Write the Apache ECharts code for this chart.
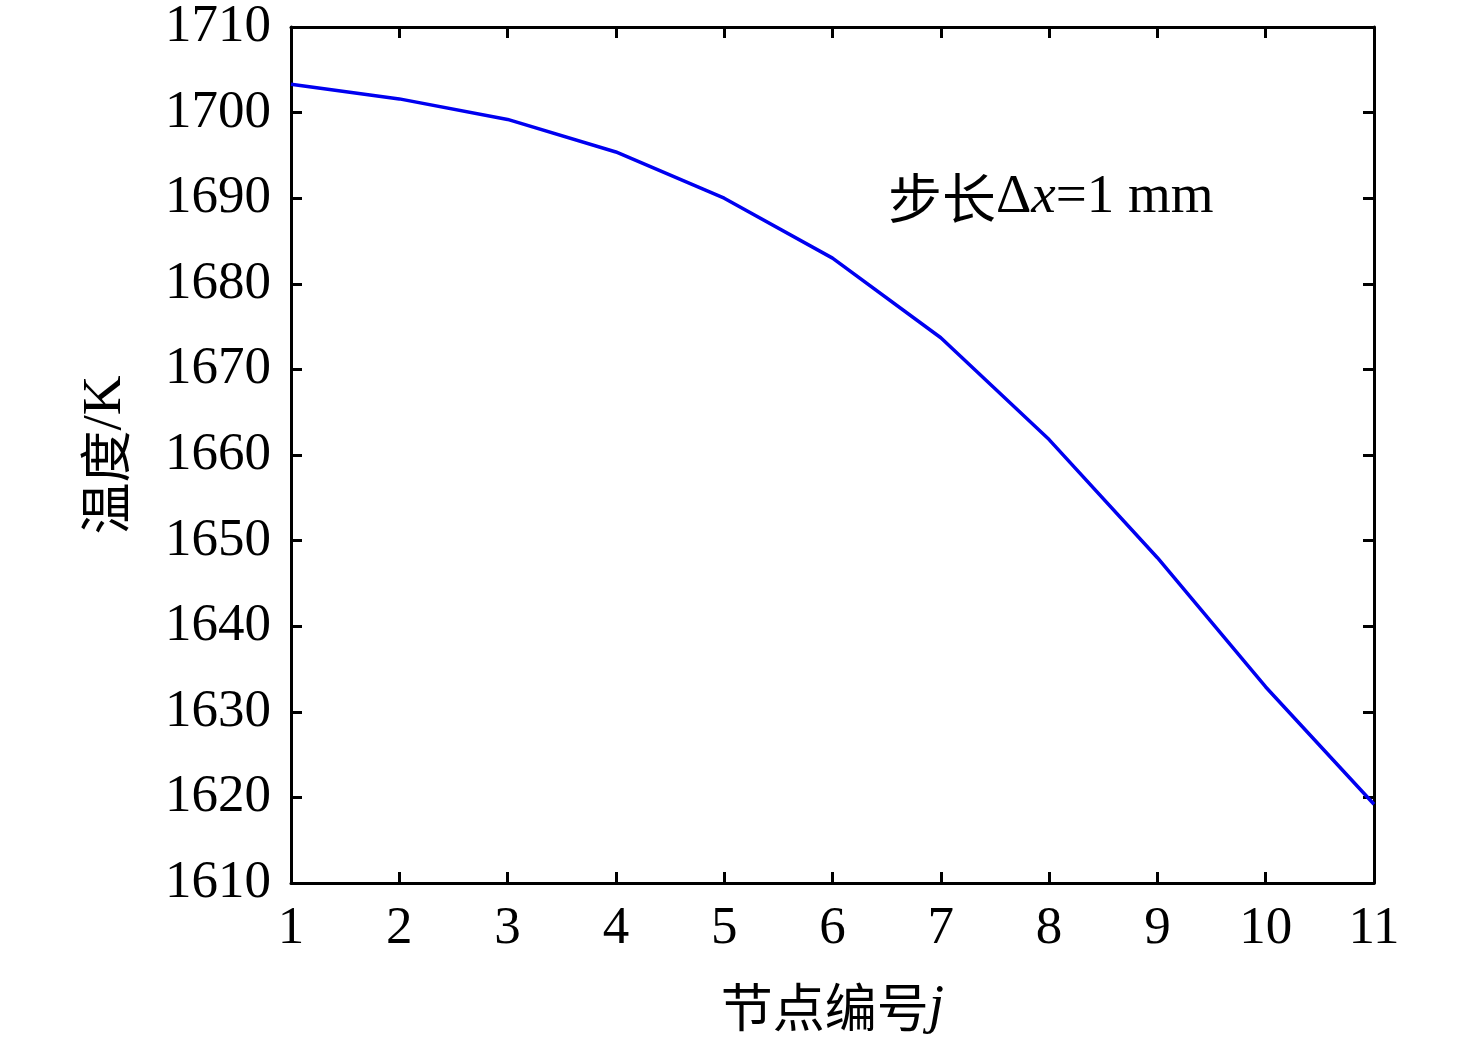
<!DOCTYPE html>
<html>
<head>
<meta charset="utf-8">
<script src="https://cdn.jsdelivr.net/npm/echarts@6/dist/echarts.min.js"></script>
<style>
  html, body { margin: 0; padding: 0; background: #fff; }
  #chart { width: 1476px; height: 1047px; }
</style>
</head>
<body>
<div id="chart"></div>
<script>
// node index j and temperature (K)
const nodes = [1, 2, 3, 4, 5, 6, 7, 8, 9, 10, 11];
const temps = [1703.3, 1701.6, 1699.2, 1695.4, 1690.0, 1683.0, 1673.7, 1661.8, 1648.0, 1632.9, 1619.2];

const FONT = '"Liberation Serif", "Times New Roman", "Noto Sans CJK SC", serif';
const CJK = '"Noto Sans CJK SC", "Liberation Serif", serif';

const myChart = echarts.init(document.getElementById("chart"));

const axisLine = { show: true, onZero: false, lineStyle: { color: "#000", width: 3 } };
const tick = { show: true, inside: true, length: 11, lineStyle: { color: "#000", width: 3 } };
const tickLabel = {
    color: "#000",
    fontFamily: FONT,
    fontSize: 53,
    margin: 20,
    formatter: (v) => String(v),
};

const option = {
    backgroundColor: "#fff",
    animation: false,
    grid: { left: 291, right: 102, top: 27, bottom: 164 },
    xAxis: [
        {
            type: "value",
            min: 1,
            max: 11,
            interval: 1,
            axisLine,
            axisTick: tick,
            splitLine: { show: false },
            axisLabel: tickLabel,
            name: "{c|节点编号}{i|j}",
            nameLocation: "middle",
            nameGap: 97,
            nameTextStyle: {
                rich: {
                    c: { fontFamily: CJK, fontSize: 52, color: "#000" },
                    i: { fontFamily: FONT, fontStyle: "italic", fontSize: 55, color: "#000" },
                },
            },
        },
        {
            type: "value",
            position: "top",
            min: 1,
            max: 11,
            interval: 1,
            axisLine,
            axisTick: tick,
            axisLabel: { show: false },
            splitLine: { show: false },
        },
    ],
    yAxis: [
        {
            type: "value",
            min: 1610,
            max: 1710,
            interval: 10,
            axisLine,
            axisTick: tick,
            splitLine: { show: false },
            axisLabel: tickLabel,
            name: "{c|温度}{n|/K}",
            nameLocation: "middle",
            nameRotate: 90,
            nameGap: 158,
            nameTextStyle: {
                rich: {
                    c: { fontFamily: CJK, fontSize: 52, color: "#000" },
                    n: { fontFamily: FONT, fontSize: 55, color: "#000" },
                },
            },
        },
        {
            type: "value",
            position: "right",
            min: 1610,
            max: 1710,
            interval: 10,
            axisLine,
            axisTick: tick,
            axisLabel: { show: false },
            splitLine: { show: false },
        },
    ],
    series: [
        {
            type: "line",
            data: nodes.map((j, i) => [j, temps[i]]),
            showSymbol: false,
            lineStyle: { color: "#0000f0", width: 3.5 },
        },
    ],
    graphic: [
        {
            type: "text",
            x: 888,
            y: 198,
            style: {
                text: "{c|步长}{n|Δ}{i|x}{n|=1 mm}",
                verticalAlign: "middle",
                rich: {
                    c: { fontFamily: CJK, fontSize: 54, fill: "#000" },
                    n: { fontFamily: FONT, fontSize: 55, fill: "#000" },
                    i: { fontFamily: FONT, fontStyle: "italic", fontSize: 55, fill: "#000" },
                },
            },
        },
    ],
};

myChart.setOption(option);
</script>
</body>
</html>
